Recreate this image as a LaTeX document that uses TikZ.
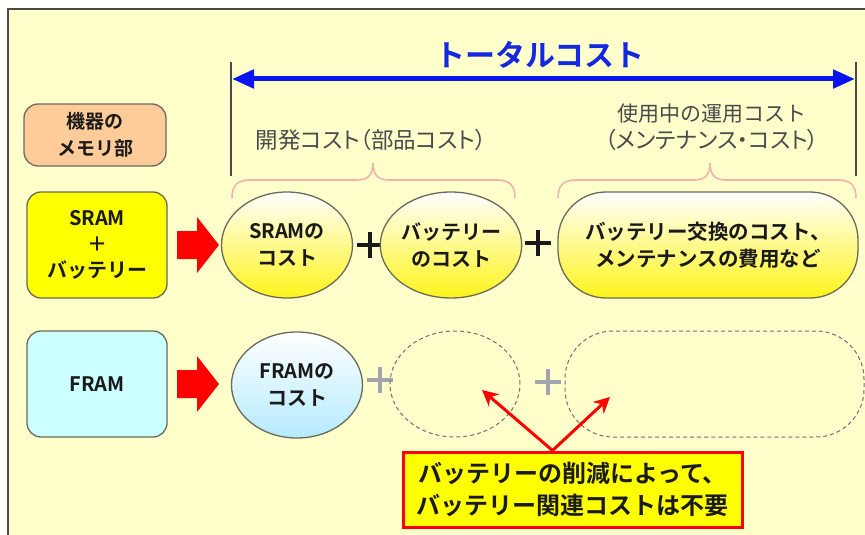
\documentclass[tikz,border=0pt]{standalone}
\usepackage{fontspec}
\setmainfont{Noto Sans CJK JP}[BoldFont={Noto Sans CJK JP Bold}]
\newfontfamily\jpprop{Noto Sans CJK JP}[RawFeature=+palt]
\usetikzlibrary{shapes.geometric,arrows.meta}
\definecolor{bg}{HTML}{FFFFCC}
\definecolor{frame}{HTML}{4A4A40}
\definecolor{edge}{HTML}{6A6A58}
\definecolor{txt}{HTML}{1A1A1A}
\definecolor{labgray}{HTML}{4A4A4A}
\definecolor{peach}{HTML}{FFCC99}
\definecolor{ybox}{HTML}{FFFF00}
\definecolor{cbox}{HTML}{CCFFFF}
\definecolor{ybot}{HTML}{FFF41A}
\definecolor{ymid}{HTML}{FFFFEC}
\definecolor{cbot}{HTML}{B4EAFF}
\definecolor{cmid}{HTML}{F2FBFF}
\definecolor{titleblue}{HTML}{1428E0}
\definecolor{arrblue}{HTML}{0A14F0}
\definecolor{bracepink}{HTML}{F2B4AA}
\definecolor{dashgray}{HTML}{707070}
\definecolor{plusgray}{HTML}{A4A4AC}
\definecolor{blockred}{HTML}{FF0000}
\tikzset{
  jp/.style={font=\fontsize{20}{27}\selectfont\bfseries, text=txt, align=center},
  memo/.style={jp, draw=edge, line width=1.3pt, rounded corners=14pt, minimum width=140pt, minimum height=106pt, inner sep=0pt},
  costell/.style={jp, ellipse, draw=edge, line width=1.3pt, minimum width=131pt, minimum height=106pt, inner sep=0pt},
  costpill/.style={jp, rectangle, rounded corners=48pt, draw=edge, line width=1.3pt, minimum width=300pt, minimum height=106pt, inner sep=0pt},
  yshade/.style={top color=white, middle color=ymid, bottom color=ybot},
  cshade/.style={top color=white, middle color=cmid, bottom color=cbot},
  ghostell/.style={ellipse, draw=dashgray, line width=1pt, dash pattern=on 4pt off 3pt, minimum width=130pt, minimum height=106pt, inner sep=0pt},
  ghostpill/.style={rectangle, rounded corners=48pt, draw=dashgray, line width=1pt, dash pattern=on 4pt off 3pt, minimum width=299pt, minimum height=106pt, inner sep=0pt},
  lab/.style={font=\fontsize{21}{27}\selectfont, text=labgray, align=center},
  brc/.style={draw=bracepink, line width=1.6pt},
  vline/.style={draw=labgray, line width=1.1pt},
  plusblack/.style={draw=txt, line width=3.2pt},
  plusgrey/.style={draw=plusgray, line width=3.2pt},
  notearrow/.style={draw=red, line width=3pt, -{Stealth[length=16pt,width=16pt]}},
}
\begin{document}
\begin{tikzpicture}[x=1pt,y=-1pt]
\useasboundingbox (0,0) rectangle (865,535);
\fill[bg] (8,9) rectangle (865,535);
\draw[frame, line width=2pt] (8,535) -- (8,9) -- (865,9);

% title and total arrow
\node[font=\fontsize{30}{30}\selectfont\bfseries, text=titleblue] (title) at (540,55) {トータルコスト};
\coordinate (tl) at (231,62);
\coordinate (tlb) at (231,176);
\coordinate (tr) at (856,62);
\coordinate (trb) at (856,176);
\draw[vline] (tl) -- (tlb);
\draw[vline] (tr) -- (trb);
\coordinate (al) at (232,79);
\coordinate (ar) at (855,79);
\draw[arrblue, line width=5pt, {Triangle[length=22pt,width=18pt]}-{Triangle[length=22pt,width=18pt]}] (al) -- (ar);

% header labels
\node[memo, fill=peach, minimum width=142pt, minimum height=62pt, font=\fontsize{19}{27}\selectfont\bfseries] (head) at (95,135) {機器の\\メモリ部};
\node[lab] (dev) at (371,140) {\fontsize{22.5}{27}\jpprop 開発コスト（部品コスト）};
\node[lab] (run) at (712,127) {使用中の運用コスト\\\fontsize{22.5}{27}\jpprop（メンテナンス・コスト）};

% braces
\draw[brc] (232,198) .. controls (232,186) and (237,180) .. (250,180) -- (357,180)
  .. controls (368,180) and (373,175) .. (373,163) .. controls (373,175) and (378,180) .. (389,180)
  -- (497,180) .. controls (510,180) and (515,186) .. (515,198);
\draw[brc] (558,198) .. controls (558,186) and (563,180) .. (576,180) -- (694,180)
  .. controls (705,180) and (710,175) .. (710,163) .. controls (710,175) and (715,180) .. (726,180)
  -- (838,180) .. controls (851,180) and (856,186) .. (856,198);

% SRAM row
\node[memo, fill=ybox, font=\fontsize{20}{26}\selectfont\bfseries] (sram) at (97,245) {SRAM\\＋\\バッテリー};
\fill[blockred] (177,231) -- (197,231) -- (197,217) -- (219,245) -- (197,273) -- (197,259) -- (177,259) -- cycle;
\node[costell, yshade] (sramc) at (287,245) {SRAMの\\コスト};
\draw[plusblack] (357,245) -- (383,245) (370,232) -- (370,258);
\node[costell, yshade] (batc) at (451,245) {バッテリー\\のコスト};
\draw[plusblack] (525,243) -- (551,243) (538,230) -- (538,256);
\node[costpill, yshade, font=\fontsize{20.5}{27}\selectfont\bfseries] (maint) at (708,245) {バッテリー交換のコスト、\\メンテナンスの費用など};

% FRAM row
\node[memo, fill=cbox] (fram) at (97,384) {FRAM};
\fill[blockred] (177,370) -- (197,370) -- (197,356) -- (219,384) -- (197,412) -- (197,398) -- (177,398) -- cycle;
\node[costell, cshade] (framc) at (297,385) {FRAMの\\コスト};
\draw[plusgrey] (367,380) -- (393,380) (380,367) -- (380,393);
\node[ghostell] (g1) at (455,384) {};
\draw[plusgrey] (535,382) -- (561,382) (548,369) -- (548,395);
\node[ghostpill] (g2) at (714.5,384) {};

% note
\node[draw=red, line width=3pt, fill=ybox, minimum width=339pt, minimum height=75pt, inner sep=0pt,
      font=\fontsize{24}{32}\selectfont\bfseries, text=txt, align=center] (note) at (572.5,489.5)
      {バッテリーの削減によって、\\バッテリー関連コストは不要};
\coordinate (t1) at (482,390);
\coordinate (t2) at (610,397);
\draw[notearrow] ([xshift=-20pt]note.north) -- (t1);
\draw[notearrow] ([xshift=-20pt]note.north) -- (t2);
\end{tikzpicture}
\end{document}
